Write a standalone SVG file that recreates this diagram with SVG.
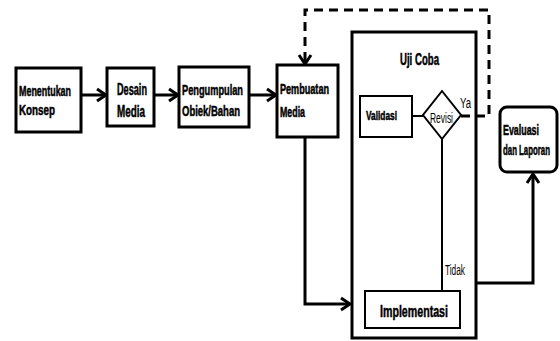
<svg xmlns="http://www.w3.org/2000/svg" width="560" height="341" viewBox="0 0 560 341">
<defs>
<marker id="arr" markerUnits="userSpaceOnUse" markerWidth="14" markerHeight="16" refX="10" refY="7" orient="auto" overflow="visible">
<path d="M1,1 L10,7 L1,13" fill="none" stroke="#000" stroke-width="3"/>
</marker>
</defs>
<style>
.box{fill:#fff;stroke:#000;stroke-width:3}
.thin{fill:#fff;stroke:#000;stroke-width:2}
.line{fill:none;stroke:#000;stroke-width:3}
.dash{fill:none;stroke:#000;stroke-width:3;stroke-dasharray:9,6}
text{font-family:"Liberation Sans Narrow","Arial Narrow","Liberation Sans",sans-serif;font-weight:bold;fill:#000;stroke:#000;stroke-width:0.5}
.t{font-size:14px}
.n{font-weight:normal;stroke-width:0}
</style>
<rect width="560" height="341" fill="#fff"/>
<g id="uji-coba">
<rect class="box" x="352" y="32" width="124" height="306"/>
<text x="400" y="65" font-size="16" textLength="39" lengthAdjust="spacingAndGlyphs">Uji Coba</text>
</g>
<g id="connectors">
<path class="line" d="M81,95 H106" marker-end="url(#arr)"/>
<path class="line" d="M154,95 H178" marker-end="url(#arr)"/>
<path class="line" d="M249,95 H276" marker-end="url(#arr)"/>
<path class="line" d="M305,137 V304 H350" marker-end="url(#arr)"/>
<path class="line" d="M476,283 H533 V174" marker-end="url(#arr)"/>
<path class="dash" d="M461,116 H489 V10 H305 V64" marker-end="url(#arr)"/>
<path d="M412,116 H423" stroke="#000" stroke-width="2"/>
<path d="M442,139 V291" stroke="#000" stroke-width="2"/>
</g>
<g id="menentukan-konsep">
<rect class="box" x="16" y="68" width="65" height="64"/>
<text class="t" x="19" y="96" textLength="52" lengthAdjust="spacingAndGlyphs">Menentukan</text>
<text class="t" x="19" y="115" textLength="36" lengthAdjust="spacingAndGlyphs">Konsep</text>
</g>
<g id="desain-media">
<rect class="box" x="107" y="68" width="47" height="58"/>
<text x="117" y="95" font-size="16" textLength="30" lengthAdjust="spacingAndGlyphs">Desain</text>
<text x="117" y="117" font-size="16" textLength="28" lengthAdjust="spacingAndGlyphs">Media</text>
</g>
<g id="pengumpulan">
<rect class="box" x="179" y="67" width="70" height="60"/>
<text x="182" y="95" font-size="15" textLength="61" lengthAdjust="spacingAndGlyphs">Pengumpulan</text>
<text x="182" y="116" font-size="14" textLength="58" lengthAdjust="spacingAndGlyphs">Obiek/Bahan</text>
</g>
<g id="pembuatan-media">
<rect class="box" x="277" y="65" width="61" height="72"/>
<text x="280" y="94" font-size="14" textLength="49" lengthAdjust="spacingAndGlyphs">Pembuatan</text>
<text x="280" y="117" font-size="14" textLength="25" lengthAdjust="spacingAndGlyphs">Media</text>
</g>
<g id="validasi">
<rect class="thin" x="360" y="96" width="52" height="41"/>
<text x="366" y="120" font-size="13" textLength="31" lengthAdjust="spacingAndGlyphs">Validasi</text>
</g>
<g id="revisi">
<polygon class="thin" points="442,91 461,115 442,139 423,115"/>
<text class="n" x="430" y="123" font-size="15" textLength="23" lengthAdjust="spacingAndGlyphs">Revisi</text>
<text class="n" x="460" y="108" font-size="14" textLength="11" lengthAdjust="spacingAndGlyphs">Ya</text>
<text class="n" x="445" y="275" font-size="14" textLength="20" lengthAdjust="spacingAndGlyphs">Tidak</text>
</g>
<g id="implementasi">
<rect class="thin" x="365" y="291" width="95" height="37"/>
<text x="380" y="317" font-size="17" textLength="68" lengthAdjust="spacingAndGlyphs">Implementasi</text>
</g>
<g id="evaluasi">
<rect class="box" x="500" y="107" width="57" height="65" rx="7"/>
<text x="503" y="135" font-size="14" textLength="36" lengthAdjust="spacingAndGlyphs">Evaluasi</text>
<text transform="translate(503,155) scale(0.56,1)" x="0" y="0" font-size="14">dan Laporan</text>
</g>
</svg>
